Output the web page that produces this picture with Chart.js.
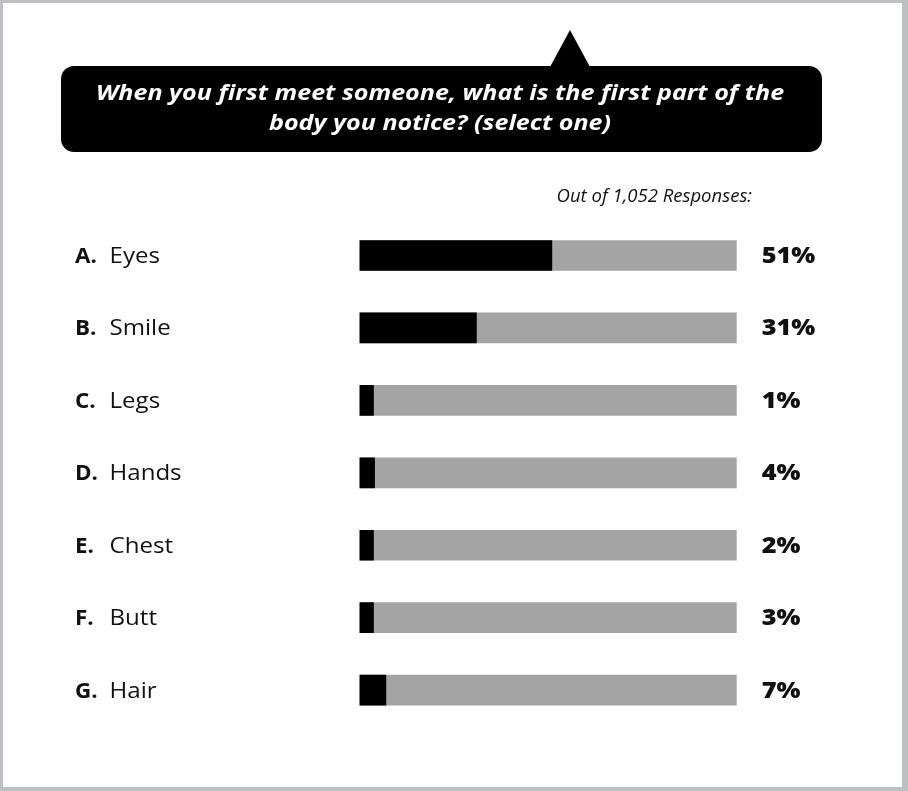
<!DOCTYPE html>
<html>
<head>
<meta charset="utf-8">
<script src="https://cdn.jsdelivr.net/npm/chart.js@4"></script>
<style>
  html, body { margin: 0; padding: 0; background: #fff; }
  #wrap { width: 908px; height: 791px; position: relative; }
</style>
</head>
<body>
<div id="wrap"><canvas id="c"></canvas></div>
<script>
const letters = ['A.', 'B.', 'C.', 'D.', 'E.', 'F.', 'G.'];
const categories = ['Eyes', 'Smile', 'Legs', 'Hands', 'Chest', 'Butt', 'Hair'];
const percents = [51, 31, 1, 4, 2, 3, 7];
const trackValues = [100, 100, 100, 100, 100, 100, 100];
const titleLines = ['When you first meet someone, what is the first part of the', 'body you notice? (select one)'];
const subtitle = 'Out of 1,052 Responses:';

const FONT = '"Open Sans", "Noto Sans", sans-serif';

function drawText(ctx, text, x, y, font, align, sx) {
  ctx.save();
  ctx.font = font;
  ctx.textAlign = align;
  ctx.textBaseline = 'alphabetic';
  ctx.translate(x, y);
  ctx.scale(sx, 1);
  ctx.fillText(text, 0, 0);
  ctx.restore();
}

const decor = {
  id: 'decor',
  beforeDraw(chart) {
    const ctx = chart.ctx;
    const W = chart.width, H = chart.height;
    ctx.save();
    ctx.fillStyle = '#ffffff';
    ctx.fillRect(0, 0, W, H);
    // outer frame
    ctx.fillStyle = '#bfc0c4';
    ctx.fillRect(0, 0, W, 3);
    ctx.fillRect(0, 0, 3, H);
    ctx.fillRect(W - 6, 0, 6, H);
    ctx.fillRect(0, H - 4, W, 4);
    // speech bubble
    ctx.fillStyle = '#000000';
    ctx.beginPath();
    ctx.roundRect(61, 66, 761, 86, 13);
    ctx.fill();
    ctx.beginPath();
    ctx.moveTo(550, 67);
    ctx.lineTo(570, 30);
    ctx.lineTo(590, 67);
    ctx.closePath();
    ctx.fill();
    // title text
    ctx.fillStyle = '#ffffff';
    drawText(ctx, titleLines[0], 440, 99.5, 'italic bold 22px ' + FONT, 'center', 1.14);
    drawText(ctx, titleLines[1], 440, 129.5, 'italic bold 22px ' + FONT, 'center', 1.14);
    // subtitle
    ctx.fillStyle = '#111111';
    drawText(ctx, subtitle, 752, 201.5, 'italic 18.5px ' + FONT, 'right', 1);
    ctx.restore();
  },
  afterDatasetsDraw(chart) {
    const ctx = chart.ctx;
    const y = chart.scales.y;
    const area = chart.chartArea;
    ctx.save();
    ctx.fillStyle = '#111111';
    for (let i = 0; i < categories.length; i++) {
      const py = y.getPixelForValue(i) + 7.5;
      drawText(ctx, letters[i], 75, py, 'bold 22px ' + FONT, 'left', 1.02);
      drawText(ctx, categories[i], 109.5, py, '22.5px ' + FONT, 'left', 1.07);
      drawText(ctx, percents[i] + '%', area.right + 25, py, '800 22px ' + FONT, 'left', 1.15);
    }
    ctx.restore();
  }
};

new Chart(document.getElementById('c'), {
  type: 'bar',
  data: {
    labels: categories,
    datasets: [
      {
        data: percents,
        backgroundColor: '#000000',
        grouped: false,
        barThickness: 30,
        minBarLength: 14
      },
      {
        data: trackValues,
        backgroundColor: '#a4a4a4',
        grouped: false,
        barThickness: 30
      }
    ]
  },
  options: {
    indexAxis: 'y',
    responsive: true,
    maintainAspectRatio: false,
    animation: false,
    layout: { padding: { left: 359.5, right: 171.3, top: 219.3, bottom: 64.7 } },
    scales: {
      x: { display: false, min: 0, max: 100 },
      y: { display: false }
    },
    plugins: {
      legend: { display: false },
      tooltip: { enabled: false },
      title: { display: false }
    }
  },
  plugins: [decor]
});
</script>
</body>
</html>
